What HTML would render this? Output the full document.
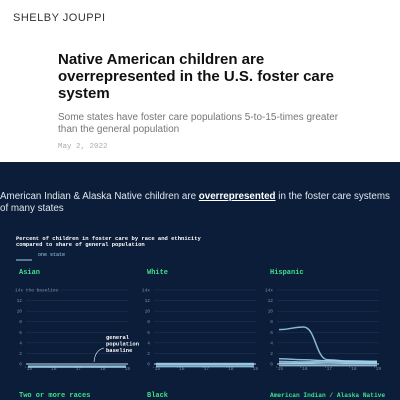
<!DOCTYPE html>
<html><head><meta charset="utf-8"><style>
html,body{margin:0;padding:0;width:400px;height:400px;overflow:hidden;background:#fff;font-family:"Liberation Sans",sans-serif}
.hdr{position:absolute;left:0;top:0;width:400px;height:162px;background:#fff}
.dark{position:absolute;left:0;top:162px;width:400px;height:238px;background:#0b1d38}
</style></head><body>
<div class="hdr">
<div style="position:absolute;left:13px;top:12px;font-size:11px;letter-spacing:0.5px;color:#333">SHELBY JOUPPI</div>
<div style="position:absolute;left:58px;top:51px;width:300px;font-size:15px;font-weight:bold;line-height:17px;color:#111">Native American children are<br>overrepresented in the U.S. foster care system</div>
<div style="position:absolute;left:58px;top:112px;width:290px;font-size:10px;line-height:11.5px;color:#777">Some states have foster care populations 5-to-15-times greater than the general population</div>
<div style="position:absolute;left:58px;top:143px;font-family:'Liberation Mono',monospace;font-size:7.5px;color:#aaa">May 2, 2022</div>
</div>
<div class="dark">
<div style="position:absolute;left:0;top:29px;width:392px;font-size:9.8px;line-height:12px;color:#dfe6ee">American Indian &amp; Alaska Native children are <b style="text-decoration:underline;color:#fff">overrepresented</b> in the foster care systems of many states</div>
</div>
<svg id="chart" width="400" height="400" style="position:absolute;left:0;top:0"></svg>
<script>
const years=["'15","'16","'17","'18","'19"];
const yTicks=[0,2,4,6,8,10,12,14];
const panelNames=["Asian","White","Hispanic","Two or more races","Black","American Indian / Alaska Native"];
const asianSeries=[[-0.4,-0.4,-0.4,-0.4,-0.4],[-0.6,-0.6,-0.6,-0.6,-0.6]];
const whiteSeries=[[-0.2,-0.2,-0.2,-0.2,-0.2],[-0.5,-0.5,-0.5,-0.5,-0.5],[0.1,0.1,0.1,0.1,0.1]];
const hispanicSeries=[[6.5,7,0.8,0.5,0.5],[0.5,0.4,0.6,0.6,0.5],[1,0.8,0.6,0.4,0.3],[0.2,0.2,0.3,0.2,0.2],[-0.3,-0.3,-0.3,-0.3,-0.3]];
const seriesByPanel=[asianSeries,whiteSeries,hispanicSeries];
const NS="http://www.w3.org/2000/svg";
const svg=document.getElementById('chart');
function mk(t,a){const e=document.createElementNS(NS,t);for(const k in a)e.setAttribute(k,a[k]);return e;}
function txt(x,y,s,a){const e=mk('text',Object.assign({x:x,y:y},a));e.textContent=s;return e;}
const mono="'Liberation Mono',monospace";
let t=txt(16,240,"Percent of children in foster care by race and ethnicity",{fill:"#fff","font-family":mono,"font-size":5.5,"font-weight":"bold"});


svg.appendChild(t);
t=txt(16,246,"compared to share of general population",{fill:"#fff","font-family":mono,"font-size":5.5,"font-weight":"bold"});


svg.appendChild(t);
let lg=mk('line',{x1:16,x2:32,y1:260,y2:260,stroke:"#9fd3ee","stroke-width":1});


svg.appendChild(lg);
t=txt(38,256,"one state",{fill:"#9fd3ee","font-family":mono,"font-size":5});


svg.appendChild(t);
const colX=[26,154,277];const W=102;
const rowTop=[290];const labelY=[274,397];
function yS(top,v){return top+74-(v/14)*74;}
panelNames.forEach((name,i)=>{
 const c=i%3,r=Math.floor(i/3),L=colX[c];
 const lb=txt(L-7,labelY[r],name,{fill:"#3fe08a","font-family":mono,"font-size":name.length>20?6.2:7,"font-weight":"bold"});
 
 
 svg.appendChild(lb);
 if(r>0)return;
 const top=rowTop[r];
 const g=mk('g',{});
 
 
 svg.appendChild(g);
 yTicks.forEach(v=>{
  const y=yS(top,v);
  const gl=mk('line',{x1:L,x2:L+W,y1:y,y2:y,stroke:v===0?"#c9dbe8":"#233a5a","stroke-width":v===0?1:0.5});
  
  
  g.appendChild(gl);
  let s=v===14?(c===0?"14x the baseline":"14x"):String(v);
  const tl=txt(c===0&&v===14?L-11:L-4,y+1.5,s,{fill:"#7d8fa6","font-family":mono,"font-size":4.5,"text-anchor":c===0&&v===14?"start":"end"});
  
  
  g.appendChild(tl);
 });
 const xS=k=>L+2+k*(W-4)/(years.length-1);
 years.forEach((yr,k)=>{
  const xl=txt(xS(k),top+80,yr,{fill:"#7d8fa6","font-family":mono,"font-size":4.5,"text-anchor":"middle"});
  
  
  g.appendChild(xl);
 });
 seriesByPanel[i].forEach(vals=>{
  let d="";vals.forEach((v,k)=>{const x=xS(k),y=yS(top,v);
   if(k===0)d+="M"+x+","+y;else{const px=xS(k-1),py=yS(top,vals[k-1]),mx=(px+x)/2;d+=" C"+mx+","+py+" "+mx+","+y+" "+x+","+y;}});
  const p=mk('path',{d:d,fill:"none",stroke:"#9fd3ee","stroke-width":1.5,opacity:0.85});
  
  
  g.appendChild(p);
 });
});
const ann=txt(106,339,"general",{fill:"#fff","font-family":mono,"font-size":5.5,"font-weight":"bold"});


svg.appendChild(ann);
[["population",345.5],["baseline",352]].forEach(a=>{const e=txt(106,a[1],a[0],{fill:"#fff","font-family":mono,"font-size":5.5,"font-weight":"bold"});


svg.appendChild(e);});
const ar=mk('path',{d:"M104,348 Q95,350 94,362",fill:"none",stroke:"#fff","stroke-width":0.6});


svg.appendChild(ar);
</script>
</body></html>
